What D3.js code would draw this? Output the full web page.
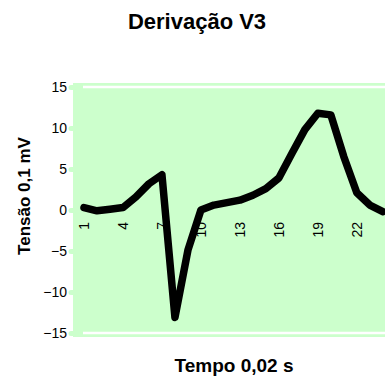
<!DOCTYPE html>
<html>
<head>
<meta charset="utf-8">
<script src="https://cdn.jsdelivr.net/npm/d3@7"></script>
<style>
  html, body { margin: 0; padding: 0; background: #fff; overflow: hidden; }
  text { font-family: "Liberation Sans", Arial, sans-serif; fill: #000; }
</style>
</head>
<body>
<svg id="chart" width="385" height="379"></svg>
<script>
// ECG lead V3 samples (0.1 mV), one per 0.02 s step
const sampleIndex = d3.range(1, 25);
const voltage = [0.3, -0.1, 0.1, 0.3, 1.6, 3.2, 4.3, -13.1, -4.9, 0.0, 0.6, 0.9,
                 1.2, 1.8, 2.6, 3.9, 6.9, 9.8, 11.8, 11.6, 6.5, 2.1, 0.6, -0.2];
const yTicks = [-15, -10, -5, 0, 5, 10, 15];
const xTicks = [1, 4, 7, 10, 13, 16, 19, 22];

const titleText = "Derivação V3";
const xTitle = "Tempo 0,02 s";
const yTitle = "Tensão 0,1 mV";

const svg = d3.select("#chart");

const x = d3.scaleLinear().domain([1, 24]).range([84, 382.8]);
const y = d3.scaleLinear().domain([-15, 15]).range([333, 87]);

// plot background
svg.append("rect")
  .attr("x", 73).attr("y", 83)
  .attr("width", 330).attr("height", 254)
  .attr("fill", "#ccffcc");

// white rules at the top and bottom of the value range
svg.selectAll("line.rule")
  .data([15, -15])
  .join("line")
  .attr("class", "rule")
  .attr("x1", 83).attr("x2", 400)
  .attr("y1", d => y(d)).attr("y2", d => y(d))
  .attr("stroke", "#fff").attr("stroke-width", 2.5);

// y axis
const yAxis = svg.append("g")
  .attr("transform", "translate(73,0)")
  .call(d3.axisLeft(y).tickValues(yTicks).tickSize(2).tickPadding(4).tickFormat(d3.format("d")));
yAxis.select(".domain").remove();
yAxis.selectAll(".tick line")
  .attr("stroke", "#ccffcc").attr("stroke-width", 5).attr("stroke-linecap", "round");
yAxis.selectAll(".tick text")
  .style("font-size", "14px").style("font-family", "Liberation Sans, Arial, sans-serif");

// x axis on the zero line, labels turned upright
const xAxis = svg.append("g")
  .attr("transform", `translate(0,${y(0)})`)
  .call(d3.axisBottom(x).tickValues(xTicks).tickSize(0).tickFormat(d3.format("d")));
xAxis.select(".domain").remove();
xAxis.selectAll(".tick text")
  .attr("transform", "rotate(-90)")
  .attr("x", -12).attr("y", 0).attr("dy", "0.35em")
  .attr("text-anchor", "end")
  .style("font-size", "14px").style("font-family", "Liberation Sans, Arial, sans-serif");

// the trace
const line = d3.line()
  .x((d, i) => x(sampleIndex[i]))
  .y(d => y(d));
svg.append("path")
  .datum(voltage)
  .attr("d", line)
  .attr("fill", "none")
  .attr("stroke", "#000")
  .attr("stroke-width", 7.5)
  .attr("stroke-linejoin", "round")
  .attr("stroke-linecap", "round");

// titles
svg.append("text")
  .attr("x", 197).attr("y", 29)
  .attr("text-anchor", "middle")
  .style("font-size", "22px").style("font-weight", "bold")
  .text(titleText);

svg.append("text")
  .attr("x", 234).attr("y", 372)
  .attr("text-anchor", "middle")
  .style("font-size", "19px").style("font-weight", "bold")
  .text(xTitle);

svg.append("text")
  .attr("transform", "translate(30,196) rotate(-90)")
  .attr("text-anchor", "middle")
  .style("font-size", "17px").style("font-weight", "bold")
  .text(yTitle);
</script>
</body>
</html>
